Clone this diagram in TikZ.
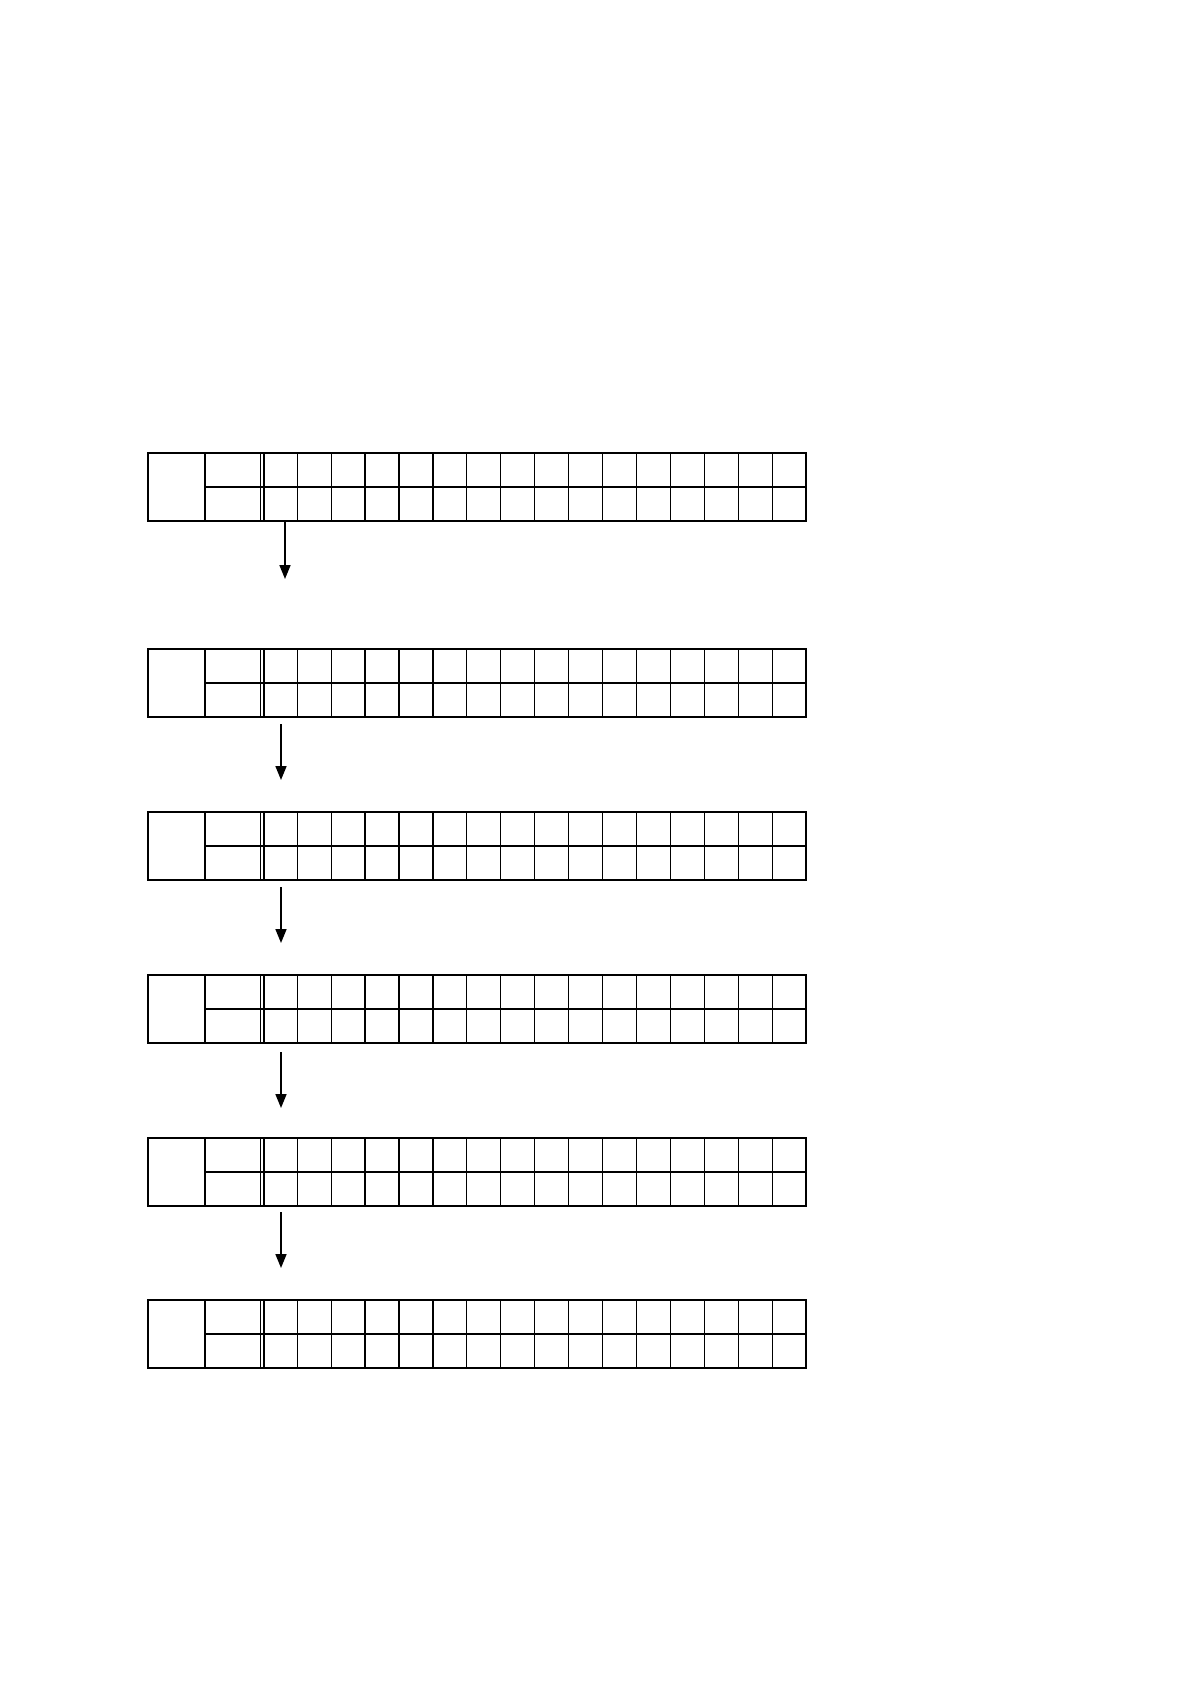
\documentclass[tikz,border=0pt]{standalone}
\usetikzlibrary{arrows.meta}
\begin{document}
\begin{tikzpicture}[x=0.5pt,y=-0.5pt,
  outerline/.style={line width=1pt},
  midline/.style={line width=0.85pt},
  gridline/.style={line width=0.6pt},
  flow/.style={line width=0.85pt,-{Triangle[length=7pt,width=5.5pt]}}]
\useasboundingbox (0,0) rectangle (1191,1684);
\foreach \T/\n in {453.3/1,648.7/2,812.3/3,975/4,1138/5,1300.3/6}{
  \coordinate (t\n) at (285,\T);
  \coordinate (b\n) at (285,\T+68);
  \foreach \k in {1,...,15}{
    \draw[gridline] (263.3+33.92*\k,\T) -- (263.3+33.92*\k,\T+68);
  }
  \draw[gridline] (260.5,\T) -- (260.5,\T+68);
  \draw[outerline] (263.6,\T) -- (263.6,\T+68);
  \draw[midline] (204.7,\T+34) -- (806,\T+34);
  \draw[outerline] (204.7,\T) -- (204.7,\T+68);
  \draw[outerline] (147.7,\T) rectangle (806,\T+68);
}
\coordinate (s1) at (285,522); \coordinate (e1) at (285,579);
\coordinate (s2) at (281,724); \coordinate (e2) at (281,780);
\coordinate (s3) at (281,887); \coordinate (e3) at (281,943);
\coordinate (s4) at (281,1052); \coordinate (e4) at (281,1108);
\coordinate (s5) at (281,1212); \coordinate (e5) at (281,1268);
\foreach \i in {1,...,5}{\draw[flow] (s\i) -- (e\i);}
\end{tikzpicture}
\end{document}
